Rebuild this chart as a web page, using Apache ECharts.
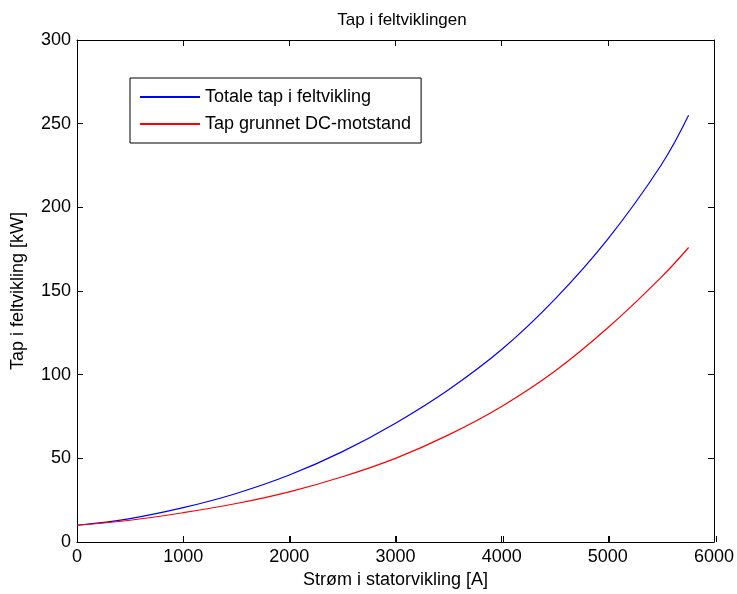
<!DOCTYPE html>
<html>
<head>
<meta charset="utf-8">
<script src="https://cdn.jsdelivr.net/npm/echarts@6/dist/echarts.min.js"></script>
<style>
  html, body { margin: 0; padding: 0; background: #fff; }
  #box1 { width: 737px; height: 594px; }
</style>
</head>
<body>
<div id="box1"></div>
<script>
// strøm i statorvikling [A]
var current = [0, 500, 1000, 1500, 2000, 2500, 3000, 3500, 4000, 4500, 5000, 5500, 5761]
// totale tap i feltvikling [kW]
var totalLoss = [10, 14, 20.5, 29, 40, 54, 71, 91, 115, 145, 181, 225, 255]
// tap grunnet DC-motstand [kW]
var dcLoss = [10, 13, 17.5, 23, 30, 39, 50, 64, 81, 102, 128, 158, 176]
var seriesNames = ['Totale tap i feltvikling', 'Tap grunnet DC-motstand']

function pairs(xs, ys) {
    return xs.map(function (x, i) { return [x, ys[i]] })
}

var font = "'Liberation Sans', Arial, sans-serif"
var first = echarts.init(document.getElementById('box1'))

// every axis gets its own fresh objects (box around the plot, ticks inside)
function frameAxis(extra) {
    var a = {
        axisLine: { show: true, onZero: false, lineStyle: { color: '#000', width: 1 } },
        axisTick: { show: true, inside: true, length: 6, lineStyle: { color: '#000', width: 1 } },
        splitLine: { show: false }
    }
    for (var k in extra) a[k] = extra[k]
    return a
}
function hiddenAxis(extra) {
    var a = { type: 'value', show: false }
    for (var k in extra) a[k] = extra[k]
    return a
}

var option = {
    backgroundColor: '#fff',
    animation: false,
    title: {
        text: 'Tap i feltviklingen',
        left: 397,
        textAlign: 'center',
        top: 7,
        textStyle: { fontFamily: font, fontSize: 17, fontWeight: 'normal', color: '#000' }
    },
    legend: {
        data: seriesNames,
        orient: 'vertical',
        left: 130,
        top: 78,
        padding: [10, 10, 10, 10],
        itemGap: 9,
        itemWidth: 60,
        itemHeight: 2,
        itemTextGap: 5,
        icon: 'rect',
        borderColor: '#000',
        borderWidth: 1,
        backgroundColor: '#fff',
        textStyle: { fontFamily: font, fontSize: 18, color: '#000' }
    },
    grid: [
        { left: 77, right: 21, top: 40, bottom: 52 },
        // thin strip along the bottom edge: carries the inward ticks of the x axis
        { left: 77, right: 21, top: 536, height: 6 },
        // thin strip along the left edge: carries the inward ticks of the y axis
        { left: 77, width: 6, top: 40, bottom: 52 }
    ],
    xAxis: [
        frameAxis({
            type: 'value', min: 0, max: 6000, interval: 1000, position: 'bottom',
            name: 'Strøm i statorvikling [A]',
            nameLocation: 'middle',
            nameGap: 27,
            nameTextStyle: { fontFamily: font, fontSize: 18, color: '#000' },
            axisLabel: { fontFamily: font, fontSize: 18, color: '#000', margin: 6, formatter: function (v) { return String(v) } }
        }),
        frameAxis({
            type: 'value', min: 0, max: 6000, interval: 1000, position: 'top',
            axisLabel: { show: false }
        }),
        frameAxis({
            gridIndex: 1, type: 'value', min: 0, max: 6000, interval: 1000, position: 'top',
            axisLine: { show: false, onZero: false },
            axisLabel: { show: false }
        }),
        hiddenAxis({ gridIndex: 2, min: 0, max: 1 })
    ],
    yAxis: [
        frameAxis({
            type: 'value', min: 0, max: 300, interval: 50, position: 'left',
            name: 'Tap i feltvikling [kW]',
            nameLocation: 'middle',
            nameGap: 50,
            nameTextStyle: { fontFamily: font, fontSize: 18, color: '#000' },
            axisLabel: { fontFamily: font, fontSize: 18, color: '#000', margin: 6, formatter: function (v) { return String(v) } }
        }),
        frameAxis({
            type: 'value', min: 0, max: 300, interval: 50, position: 'right',
            axisLabel: { show: false }
        }),
        hiddenAxis({ gridIndex: 1, min: 0, max: 1 }),
        frameAxis({
            gridIndex: 2, type: 'value', min: 0, max: 300, interval: 50, position: 'right',
            axisLine: { show: false, onZero: false },
            axisLabel: { show: false }
        })
    ],
    series: [
        {
            name: seriesNames[0],
            type: 'line',
            smooth: 0.4,
            showSymbol: false,
            symbol: 'none',
            color: '#0000ff',
            lineStyle: { color: '#0000ff', width: 1.2 },
            data: pairs(current, totalLoss)
        },
        {
            name: seriesNames[1],
            type: 'line',
            smooth: 0.4,
            showSymbol: false,
            symbol: 'none',
            color: '#ff0000',
            lineStyle: { color: '#ff0000', width: 1.2 },
            data: pairs(current, dcLoss)
        }
    ]
}
first.setOption(option)
</script>
</body>
</html>
